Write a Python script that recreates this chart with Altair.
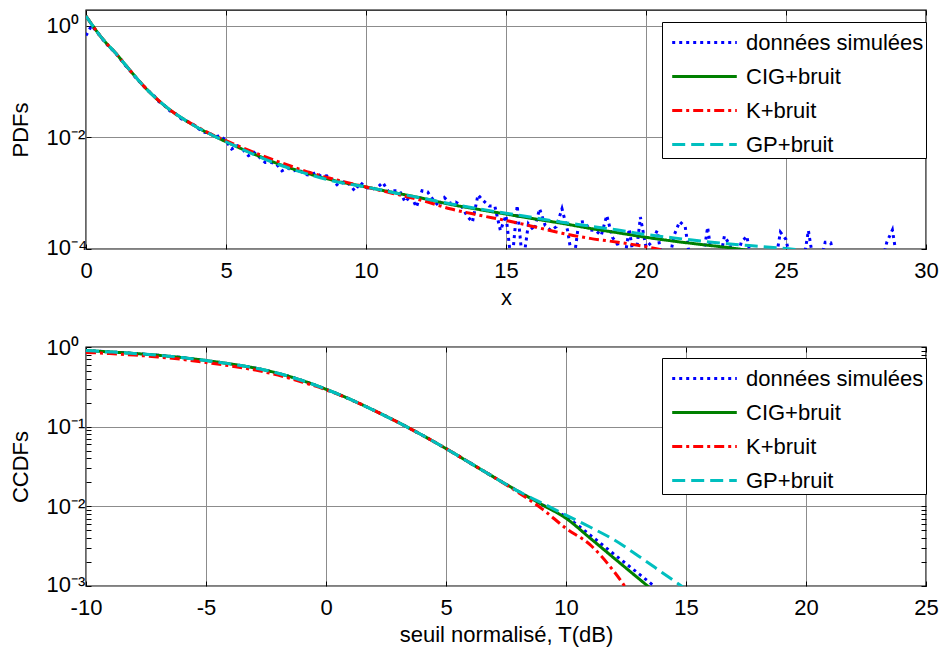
import altair as alt
import pandas as pd

FONT = "Liberation Sans"
FS = 22

SERIES = ["données simulées", "CIG+bruit", "K+bruit", "GP+bruit"]
COLORS = ["#0000FF", "#008000", "#FF0000", "#00BFBF"]
DASHES = [[3, 4], [1, 0], [10, 4, 3, 4], [13, 6]]

# ---------------- top panel : PDFs ----------------
# simulated histogram (bin centres every 0.2)
pdf_blue = [
    0.661, 1.0, 0.759, 0.562, 0.427,
    0.347, 0.263, 0.195, 0.151, 0.112,
    0.0891, 0.0692, 0.0575, 0.0437, 0.0372,
    0.0295, 0.0263, 0.0214, 0.0195, 0.0174,
    0.0145, 0.0123, 0.0120, 0.0102, 0.0107,
    0.00871, 0.00617, 0.00708, 0.00603, 0.00468,
    0.00537, 0.00437, 0.00355, 0.00355, 0.00331,
    0.00251, 0.00282, 0.00251, 0.00263, 0.00219,
    0.00209, 0.00234, 0.00200, 0.00204, 0.00174,
    0.00135, 0.00158, 0.00145, 0.00110, 0.00155,
    0.00126, 0.00117, 0.00126, 0.00155, 0.00107,
    0.00110, 0.00110, 0.000692, 0.000912, 0.000562,
    0.00110, 0.00105, 0.000759, 0.000589, 0.000832,
    0.000661, 0.000692, 0.000603, 0.000398, 0.000302,
    0.000933, 0.000724, 0.000589, 0.000589, 0.000214,
    0.000398, 0.00005, 0.000603, 0.00005, 0.000282,
    0.000214, 0.000525, 0.000263, 0.000214, 0.000251,
    0.000525, 0.000214, 0.00005, 0.000302, 0.000309,
    0.000219, 0.000214, 0.000174, 0.000398, 0.000162,
    0.000117, 0.00005, 0.000229, 0.00005, 0.000372,
    0.000107, 0.000132, 0.000214, 0.00005, 0.00005,
    0.000174, 0.000309, 0.000251, 0.00005, 0.00005,
    0.00005, 0.000245, 0.00005, 0.00005, 0.00017,
    0.000117, 0.00005, 0.000132, 0.00017, 0.00005,
    0.00005, 0.00005, 0.00005, 0.00005, 0.0002,
    0.000148, 0.00005, 0.00005, 0.00005, 0.000214,
    0.00005, 0.00005, 0.000132, 0.000129, 0.00005,
    0.00005, 0.00005, 0.00005, 0.00005, 0.00005,
    0.00005, 0.00005, 0.00005, 0.000132, 0.000219,
    0.00005, 0.00005, 0.00005,
]
pdf_x_blue = [round(0.2 * i, 1) for i in range(len(pdf_blue))]

pdf_x_model = [0, 0.25, 0.5, 0.75, 1, 1.5, 2, 2.5, 3, 3.5, 4, 4.5, 5,
               6, 7, 8, 9, 10, 11, 12, 13, 14, 15, 16, 17, 18, 19, 20,
               21, 22, 23, 24, 25, 26]
pdf_green = [1.48, 0.977, 0.661, 0.468, 0.347, 0.174, 0.0891, 0.0501, 0.0309,
             0.0209, 0.0148, 0.0110, 0.00832, 0.00501, 0.00316, 0.00219,
             0.00162, 0.00129, 0.00102, 0.000813, 0.000631, 0.000513,
             0.000422, 0.000347, 0.000288, 0.000234, 0.000195, 0.000162,
             0.000138, 0.000120, 0.000105, 0.0000891, 0.0000759]
pdf_red = [1.48, 0.977, 0.661, 0.468, 0.347, 0.174, 0.0891, 0.0501, 0.0309,
           0.0209, 0.0151, 0.0112, 0.00871, 0.00537, 0.00347, 0.00234,
           0.00170, 0.00129, 0.000977, 0.000741, 0.000525, 0.000407,
           0.000324, 0.000251, 0.000191, 0.000155, 0.000132, 0.000110,
           0.0000871, 0.0000708]
pdf_cyan = [1.48, 0.977, 0.661, 0.468, 0.347, 0.174, 0.0891, 0.0501, 0.0309,
            0.0209, 0.0148, 0.0110, 0.00832, 0.00490, 0.00309, 0.00214,
            0.00158, 0.00129, 0.00102, 0.000813, 0.000646, 0.000525,
            0.000437, 0.000363, 0.000302, 0.000257, 0.000219, 0.000182,
            0.000158, 0.000138, 0.000123, 0.000112, 0.000102, 0.0000891]
pdf_xticks = [0, 5, 10, 15, 20, 25, 30]
pdf_yticks = [1e-4, 1e-2, 1]

# ---------------- bottom panel : CCDFs ----------------
ccdf_T = list(range(-10, 16))
ccdf_common = [0.902, 0.867, 0.830, 0.787, 0.736, 0.676, 0.614, 0.547, 0.468,
               0.380, 0.295, 0.221, 0.160, 0.1135, 0.0785, 0.0531, 0.0351,
               0.0232, 0.0155]
ccdf_blue = ccdf_common + [0.0105, 0.0074, 0.00437, 0.00251, 0.00145, 0.00083]
ccdf_green = ccdf_common + [0.0105, 0.00708, 0.0040, 0.00224, 0.00126, 0.00071]
ccdf_red = [0.856, 0.826, 0.792, 0.750, 0.700, 0.640, 0.580, 0.517, 0.444,
            0.364, 0.290, 0.221, 0.160, 0.1135, 0.0785, 0.0531, 0.0351,
            0.0232, 0.0150, 0.0093, 0.0053, 0.0033, 0.00152, 0.00056]
ccdf_cyan = ccdf_common + [0.0110, 0.00776, 0.0055, 0.0038, 0.0024, 0.00148,
                           0.00091]
ccdf_xticks = [-10, -5, 0, 5, 10, 15, 20, 25]
ccdf_yticks = [0.001, 0.002, 0.003, 0.004, 0.005, 0.006, 0.007, 0.008, 0.009,
               0.01, 0.02, 0.03, 0.04, 0.05, 0.06, 0.07, 0.08, 0.09,
               0.1, 0.2, 0.3, 0.4, 0.5, 0.6, 0.7, 0.8, 0.9, 1]

MAJOR = "abs(log(datum.value)/LN10 - round(log(datum.value)/LN10)) < 0.01"
SUP = ("datum.value >= 0.5 ? '10⁰' : datum.value >= 0.05 ? '10⁻¹' : "
       "datum.value >= 0.005 ? '10⁻²' : datum.value >= 0.0005 ? '10⁻³' : '10⁻⁴'")


def df(xs, ys, name):
    return pd.DataFrame({"x": xs[:len(ys)], "y": ys, "s": name})


def panel(frames, interps, xdom, xvals, xtitle, ydom, yvals, ytitle, leg_y):
    legend = alt.Legend(
        title=None, orient="none", legendX=576, legendY=leg_y,
        symbolType="M-1.9,0H1.9", symbolSize=1156, symbolStrokeWidth=3,
        symbolOffset=22, labelOffset=23, padding=2, rowPadding=4,
        labelFont=FONT, labelFontSize=FS, labelColor="black", labelLimit=400,
        strokeColor="black", fillColor="white",
    )
    x_main = alt.Axis(orient="bottom", values=xvals,
                      labelExpr="datum.value + ''", title=xtitle, grid=True,
                      tickSize=5, offset=-5, tickColor="black", domain=False,
                      labelPadding=11, titlePadding=6, labelFlush=False,
                      labelOverlap=False)
    y_main = alt.Axis(orient="left", values=yvals,
                      labelExpr=f"({MAJOR}) ? ({SUP}) : ''", title=ytitle,
                      grid=True,
                      gridOpacity={"condition": {"test": MAJOR, "value": 1},
                                   "value": 0},
                      tickSize=5, offset=-5, tickColor="black", domain=False,
                      labelAlign="left", labelPadding=40, titlePadding=14,
                      labelOverlap=False,
                      labelOffset={"condition": {
                          "test": f"datum.value < {ydom[0] * 1.5}",
                          "value": -2}, "value": 0})
    x_top = alt.Axis(orient="top", values=xvals, labels=False, grid=False,
                     domain=False, tickSize=5, offset=-5, tickColor="black",
                     title=None)
    y_right = alt.Axis(orient="right", values=yvals, labels=False, grid=False,
                       domain=False, tickSize=5, offset=-5, tickColor="black",
                       title=None)
    axes = [(x_main, y_main), (x_top, y_right), (None, None), (None, None)]
    layers = []
    for f, ip, (ax, ay) in zip(frames, interps, axes):
        layers.append(
            alt.Chart(f).mark_line(clip=True, strokeWidth=3, interpolate=ip)
            .encode(
                x=alt.X("x:Q", scale=alt.Scale(domain=xdom, nice=False,
                                               zero=False), axis=ax),
                y=alt.Y("y:Q", scale=alt.Scale(type="log", domain=ydom,
                                               nice=False), axis=ay),
                color=alt.Color("s:N", scale=alt.Scale(domain=SERIES,
                                                       range=COLORS),
                                legend=legend),
                strokeDash=alt.StrokeDash("s:N", scale=alt.Scale(
                    domain=SERIES, range=DASHES), legend=legend),
            )
        )
    return alt.layer(*layers).properties(width=840, height=239)


top = panel(
    [df(pdf_x_blue, pdf_blue, SERIES[0]), df(pdf_x_model, pdf_green, SERIES[1]),
     df(pdf_x_model, pdf_red, SERIES[2]), df(pdf_x_model, pdf_cyan, SERIES[3])],
    ["linear", "monotone", "monotone", "monotone"],
    [0, 30], pdf_xticks, "x",
    [1e-4, 1.9], pdf_yticks, "PDFs", 12,
)
bottom = panel(
    [df(ccdf_T, ccdf_blue, SERIES[0]), df(ccdf_T, ccdf_green, SERIES[1]),
     df(ccdf_T, ccdf_red, SERIES[2]), df(ccdf_T, ccdf_cyan, SERIES[3])],
    ["monotone"] * 4,
    [-10, 25], ccdf_xticks, "seuil normalisé, T(dB)",
    [1e-3, 1], ccdf_yticks, "CCDFs", 11,
)

chart = (
    alt.vconcat(top, bottom, spacing=98, bounds="flush")
    .resolve_scale(color="independent", strokeDash="independent")
    .resolve_legend(color="independent", strokeDash="independent")
    .properties(padding={"left": 8, "top": 8, "right": 5, "bottom": 5},
                background="white")
    .configure_view(stroke="black", strokeWidth=1.4)
    .configure_axis(labelFont=FONT, titleFont=FONT, labelFontSize=FS,
                    titleFontSize=FS, titleFontWeight="normal",
                    labelColor="black", titleColor="black",
                    gridColor="#8c8c8c", gridWidth=1)
)

chart.save("out.html", embed_options={"renderer": "svg", "actions": False})
